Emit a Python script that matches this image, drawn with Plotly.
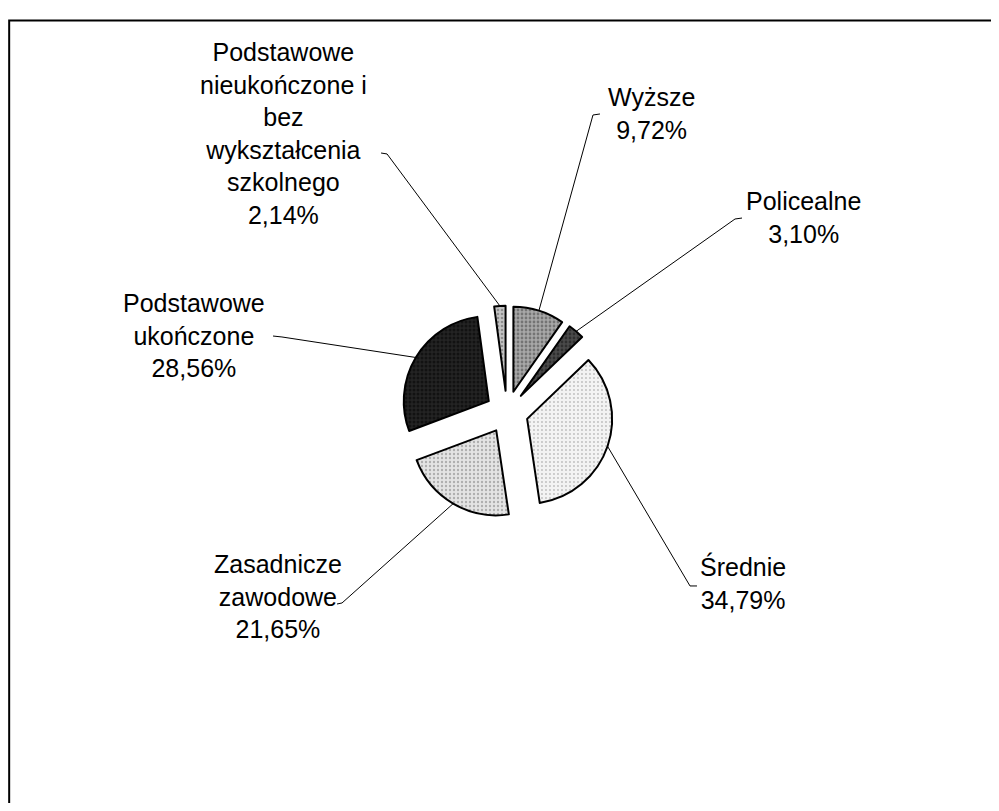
import math
import plotly.graph_objects as go

# ---- data ----
categories = [
    "Wyższe",
    "Policealne",
    "Średnie",
    "Zasadnicze zawodowe",
    "Podstawowe ukończone",
    "Podstawowe nieukończone i bez wykształcenia szkolnego",
]
values = [9.72, 3.10, 34.79, 21.65, 28.56, 2.14]
label_texts = [
    "Wyższe<br>9,72%",
    "Policealne<br>3,10%",
    "Średnie<br>34,79%",
    "Zasadnicze<br>zawodowe<br>21,65%",
    "Podstawowe<br>ukończone<br>28,56%",
    "Podstawowe<br>nieukończone i<br>bez<br>wykształcenia<br>szkolnego<br>2,14%",
]

# ---- styling / layout constants ----
OFF = 8                     # default page margin around the figure
W, H = 999 - 2 * OFF, 811 - 2 * OFF
CX, CY = 507, 412           # pie centre in screen pixels
R = 85                      # slice radius in pixels
PULL = 0.25
BOX = R * (1 + PULL)        # half size of the pie domain
FONT = "Liberation Sans, Arial, sans-serif"

fills = ["#a8a8a8", "#4a4a4a", "#f3f3f3", "#e4e4e4", "#242424", "#c4c4c4"]
dots = ["#404040", "#111111", "#8a8a8a", "#7a7a7a", "#000000", "#555555"]
solid = [0.38, 0.4, 0.18, 0.28, 0.45, 0.35]

# label anchor (text centre) and leader-line start (tick) in screen pixels
label_pos = [(651, 114), (803, 218), (743, 583), (278, 596), (194, 335), (283, 134)]
tick_pts = [
    [(600, 114), (593, 115)],
    [(742, 218), (735, 219)],
    [(697, 586), (690, 586)],
    [(337, 604), (342, 603)],
    [(273, 336), (282, 337)],
    [(381, 153), (387, 154)],
]


def px(x):
    return (x - OFF) / W


def py(y):
    return 1 - (y - OFF) / H


fig = go.Figure(
    go.Pie(
        labels=categories,
        values=values,
        sort=False,
        direction="clockwise",
        rotation=0,
        pull=[PULL] * len(values),
        textinfo="none",
        hoverinfo="label+percent",
        marker=dict(
            colors=fills,
            line=dict(color="black", width=2),
            pattern=dict(
                shape=["."] * len(values),
                fgcolor=dots,
                bgcolor=fills,
                size=4,
                solidity=solid,
                fillmode="overlay",
            ),
        ),
        domain=dict(
            x=[px(CX - BOX), px(CX + BOX)],
            y=[py(CY + BOX), py(CY - BOX)],
        ),
        showlegend=False,
    )
)

shapes = []
annotations = []
total = sum(values)
cum = 0.0
for i, v in enumerate(values):
    mid = (cum + v / 2) / total * 2 * math.pi
    cum += v
    dx, dy = math.sin(mid), -math.cos(mid)
    ex = CX + (PULL * R + R) * dx
    ey = CY + (PULL * R + R) * dy
    (ax0, ay0), (ax1, ay1) = tick_pts[i]
    path = "M {:.4f},{:.4f} L {:.4f},{:.4f} L {:.4f},{:.4f}".format(
        px(ax0), py(ay0), px(ax1), py(ay1), px(ex), py(ey)
    )
    shapes.append(
        dict(type="path", xref="paper", yref="paper", path=path,
             line=dict(color="black", width=1))
    )
    lx, ly = label_pos[i]
    annotations.append(
        dict(
            x=px(lx), y=py(ly), xref="paper", yref="paper",
            text=label_texts[i], showarrow=False,
            xanchor="center", yanchor="middle", align="center",
            font=dict(family=FONT, size=25, color="black"),
        )
    )

# outer chart frame: only the left and top edges are visible in the crop
fl, ft = 1.2 / W, py(20.5)
shapes.append(
    dict(type="path", xref="paper", yref="paper",
         path="M {:.4f},-0.05 L {:.4f},{:.4f} L 1.05,{:.4f}".format(fl, fl, ft, ft),
         line=dict(color="black", width=2))
)

fig.update_layout(
    width=W,
    height=H,
    margin=dict(l=0, r=0, t=0, b=0),
    paper_bgcolor="white",
    plot_bgcolor="white",
    shapes=shapes,
    annotations=annotations,
)

fig.write_html("out.html")
